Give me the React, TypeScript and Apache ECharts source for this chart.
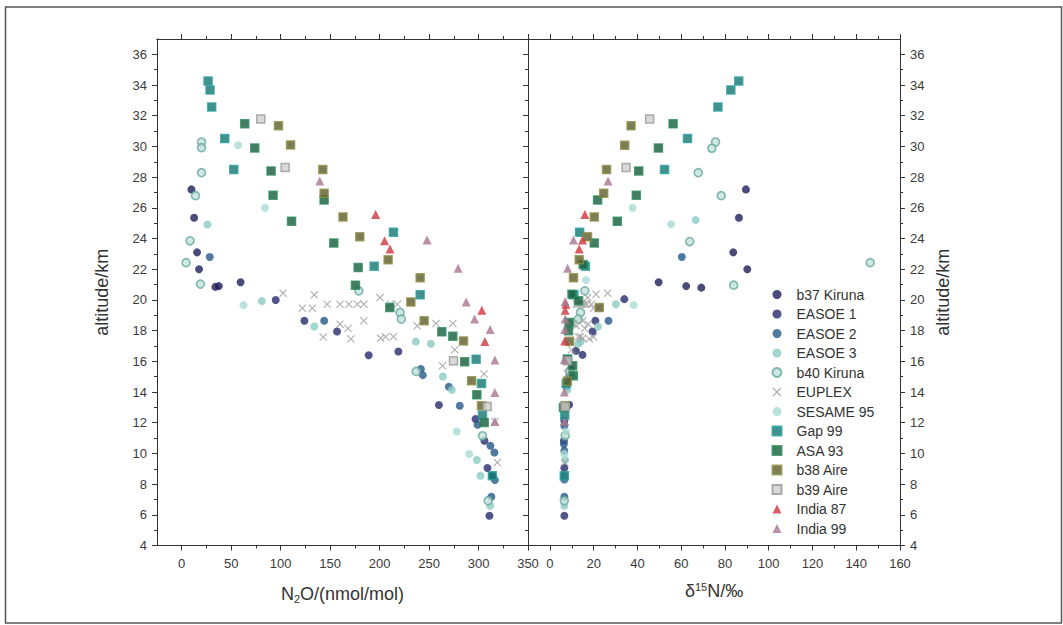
import React, { useEffect, useRef } from "react";
import * as echarts from "echarts";

// ---------- data: [N2O nmol/mol, altitude km] (left) and [δ15N ‰, altitude km] (right)
const seriesNames = [
  "b37 Kiruna", "EASOE 1", "EASOE 2", "EASOE 3", "b40 Kiruna", "EUPLEX", "SESAME 95",
  "Gap 99", "ASA 93", "b38 Aire", "b39 Aire", "India 87", "India 99",
];

const b37Left = [[9.8, 27.2], [12.5, 25.35], [15.5, 23.1], [17.5, 22.0], [34, 20.85], [37.5, 20.9], [59.5, 21.15]];
const b37Right = [[89.6, 27.2], [86.4, 25.35], [83.8, 23.1], [90.2, 22.0], [49.7, 21.15], [62.3, 20.9], [69.2, 20.8]];

const easoe1Left = [[95, 20.0], [124, 18.64], [157, 17.94], [189, 16.4], [219, 16.64], [260, 13.15], [297, 12.24], [306, 10.82], [309, 9.05], [311, 5.94]];
const easoe1Right = [[34, 20.05], [20.8, 18.64], [19.5, 17.94], [11.9, 16.68], [14.9, 16.42], [8.8, 13.17], [6.6, 12.13], [6.4, 10.82], [6.6, 9.05], [6.6, 5.94]];

const easoe2Left = [[28.3, 22.8], [144, 18.64], [241.7, 15.5], [243.7, 15.1], [270, 14.34], [281, 13.1], [299, 11.87], [312, 10.5], [316, 10.06], [314, 8.55], [316.5, 8.27], [313, 7.18]];
const easoe2Right = [[60.3, 22.8], [26.8, 18.64], [9.5, 15.5], [9, 15.1], [7.5, 14.34], [6.6, 13.1], [6.6, 11.8], [6.4, 10.6], [6.6, 10.17], [6.8, 8.55], [6.6, 8.3], [6.6, 7.18]];

const easoe3Left = [[26, 24.91], [81, 19.92], [134, 18.27], [236.6, 17.29], [251.8, 17.14], [264, 15.01], [273, 14.14], [298.3, 9.57], [302, 8.55], [311.7, 6.59]];
const easoe3Right = [[66.6, 25.2], [30.2, 19.72], [22, 18.27], [14, 17.29], [13, 17.14], [10, 15.01], [8, 14.14], [7, 9.57], [6.8, 8.55], [6.6, 6.59]];

const b40Left = [[20, 30.29], [20, 29.92], [20, 28.29], [13.9, 26.79], [8.4, 23.85], [4.4, 22.43], [18.9, 21.03], [179, 20.59], [220.7, 19.18], [222, 18.75], [237, 15.34], [304, 11.15], [309.7, 6.92]];
const b40Right = [[75.7, 30.29], [74.0, 29.88], [67.8, 28.29], [78.3, 26.79], [63.9, 23.8], [146.4, 22.43], [84.0, 20.96], [16, 20.59], [14, 19.18], [13, 18.75], [9, 15.34], [7, 11.15], [6.6, 6.92]];

const euplexLeft = [[102.5, 20.44], [122, 19.46], [132, 19.46], [134, 20.33], [147, 19.72], [160, 19.72], [169, 19.72], [177.6, 19.72], [184, 19.72], [200.5, 20.15], [211, 19.72], [218, 19.72], [160, 18.42], [143, 17.58], [168, 18.14], [184, 18.64], [171, 17.45], [201, 17.51], [206, 17.6], [214, 17.6], [238, 18.31], [257, 18.46], [274, 18.46], [276, 16.75], [263.6, 15.71], [305.6, 15.17], [316.5, 12.08], [319, 9.41]];
const euplexRight = [[26.4, 20.44], [22, 19.46], [20, 19.46], [21.1, 20.37], [19, 19.72], [17, 19.72], [16, 19.72], [15, 19.72], [14, 19.72], [17.2, 20.15], [13, 19.72], [12, 19.72], [17.5, 18.42], [20, 17.58], [16, 18.14], [15, 18.64], [18, 17.45], [15, 17.51], [14, 17.6], [13, 17.6], [12, 18.31], [11, 18.46], [10, 18.46], [10, 16.75], [9, 15.71], [8, 15.17], [7, 12.08], [6.8, 9.41]];

const sesameLeft = [[57, 30.08], [84.2, 26.01], [62.4, 19.66], [278, 11.43], [290.5, 9.96]];
const sesameRight = [[55.4, 24.93], [37.8, 26.01], [38.3, 19.66], [16.5, 21.29], [7.3, 11.43], [6.6, 9.96]];

const gapLeft = [[26.6, 34.26], [28.6, 33.68], [30.3, 32.57], [43.5, 30.51], [52.6, 28.49], [214, 24.41], [194.5, 22.2], [241, 20.33], [297.6, 16.14], [303, 14.56], [304, 12.5], [314, 8.55]];
const gapRight = [[86.3, 34.26], [82.7, 33.68], [76.8, 32.57], [62.9, 30.51], [52.4, 28.49], [13.6, 24.41], [16.2, 22.2], [11, 20.33], [8, 16.14], [7.5, 14.56], [6.8, 12.5], [6.6, 8.55]];

const asaLeft = [[63.7, 31.48], [73.8, 29.9], [90.3, 28.4], [92.3, 26.82], [143.9, 26.51], [111, 25.13], [153.7, 23.71], [178.3, 22.11], [175.6, 20.96], [210.3, 19.5], [262.9, 17.92], [274, 17.64], [286, 15.97], [298.3, 13.82], [305.7, 12.02]];
const asaRight = [[56.3, 31.48], [49.6, 29.9], [40.6, 28.4], [39.5, 26.82], [21.8, 26.51], [30.8, 25.13], [20.3, 23.71], [15.2, 22.3], [10.1, 20.37], [13.1, 19.94], [8.8, 18.53], [8.5, 17.99], [8.1, 16.14], [10.4, 15.71], [10.7, 15.06], [6.2, 12.99]];

const b38Left = [[97.8, 31.35], [110, 30.1], [142.6, 28.49], [143.9, 26.95], [163, 25.41], [180, 24.11], [208.6, 22.61], [241, 21.44], [231.6, 19.87], [245, 18.64], [284.8, 17.33], [293, 14.73], [303, 13.1]];
const b38Right = [[37.1, 31.35], [34.2, 30.08], [25.9, 28.49], [24.6, 26.95], [20.3, 25.41], [17.2, 24.11], [13.4, 22.61], [10.8, 21.44], [22.6, 19.5], [9, 17.3], [8, 14.7], [7, 13.1]];

const b39Left = [[79.9, 31.79], [104.5, 28.62], [274.7, 16.03], [308.7, 13.06]];
const b39Right = [[45.6, 31.79], [34.8, 28.62], [8, 16.03], [7, 13.06]];

const india87Left = [[196, 25.56], [205, 23.85], [210.6, 23.32], [303.3, 19.33], [306.4, 17.29]];
const india87Right = [[16, 25.56], [14.9, 23.91], [13.4, 23.32], [7.3, 19.72], [7, 19.33], [6.8, 17.33]];

const india99Left = [[139.5, 27.75], [248, 23.91], [279.4, 22.07], [287.5, 19.87], [296, 18.75], [311.7, 18.07], [316.5, 16.08], [316.5, 13.97], [316.5, 12.08]];
const india99Right = [[26.6, 27.75], [10.8, 23.91], [8.1, 22.07], [7, 19.9], [7, 18.75], [6.8, 18.07], [6.6, 16.1], [6.6, 14], [6.6, 12.1]];

// ---------- ticks
const n2oTickLabels = [0, 50, 100, 150, 200, 250, 300, 350];
const n2oMinorTicks = [25, 75, 125, 175, 225, 275, 325];
const d15nTickLabels = [0, 20, 40, 60, 80, 100, 120, 140, 160];
const d15nMinorTicks = [10, 30, 50, 70, 90, 110, 130, 150];
const altTickLabels = [4, 6, 8, 10, 12, 14, 16, 18, 20, 22, 24, 26, 28, 30, 32, 34, 36];
const altMinorTicks = [5, 7, 9, 11, 13, 15, 17, 19, 21, 23, 25, 27, 29, 31, 33, 35];

const FONT = "'Liberation Sans', Arial, sans-serif";
const AXC = "#333";

const XSYM = "path://M0,1 L1,0 L5,4 L9,0 L10,1 L6,5 L10,9 L9,10 L5,6 L1,10 L0,9 L4,5 Z";

const styles: Record<string, any> = {
  "b37 Kiruna": { symbol: "circle", size: 8, itemStyle: { color: "#1d1e58" } },
  "EASOE 1": { symbol: "circle", size: 8, itemStyle: { color: "#252a6c" } },
  "EASOE 2": { symbol: "circle", size: 8, itemStyle: { color: "#25598a" } },
  "EASOE 3": { symbol: "circle", size: 8, itemStyle: { color: "#8bcac3" } },
  "b40 Kiruna": { symbol: "circle", size: 8, itemStyle: { color: "#c4e2dc", borderColor: "#64a89c", borderWidth: 1.6 } },
  "EUPLEX": { symbol: XSYM, size: 8, itemStyle: { color: "#9c9c9c" } },
  "SESAME 95": { symbol: "circle", size: 8, itemStyle: { color: "#a9dbd3" } },
  "Gap 99": { symbol: "rect", size: 8, itemStyle: { color: "#137670", borderColor: "#2a9e9e", borderWidth: 1.5 } },
  "ASA 93": { symbol: "rect", size: 8, itemStyle: { color: "#165d3d", borderColor: "#2e8a5c", borderWidth: 1.5 } },
  "b38 Aire": { symbol: "rect", size: 8, itemStyle: { color: "#5d5d2a", borderColor: "#8e8e46", borderWidth: 1.5 } },
  "b39 Aire": { symbol: "rect", size: 8, itemStyle: { color: "#cfcfcf", borderColor: "#9a9a9a", borderWidth: 1.5 } },
  "India 87": { symbol: "triangle", size: 9, itemStyle: { color: "#d0343f" } },
  "India 99": { symbol: "triangle", size: 9, itemStyle: { color: "#a77590" } },
};

const leftData: Record<string, number[][]> = {
  "b37 Kiruna": b37Left, "EASOE 1": easoe1Left, "EASOE 2": easoe2Left, "EASOE 3": easoe3Left,
  "b40 Kiruna": b40Left, "EUPLEX": euplexLeft, "SESAME 95": sesameLeft, "Gap 99": gapLeft,
  "ASA 93": asaLeft, "b38 Aire": b38Left, "b39 Aire": b39Left, "India 87": india87Left, "India 99": india99Left,
};
const rightData: Record<string, number[][]> = {
  "b37 Kiruna": b37Right, "EASOE 1": easoe1Right, "EASOE 2": easoe2Right, "EASOE 3": easoe3Right,
  "b40 Kiruna": b40Right, "EUPLEX": euplexRight, "SESAME 95": sesameRight, "Gap 99": gapRight,
  "ASA 93": asaRight, "b38 Aire": b38Right, "b39 Aire": b39Right, "India 87": india87Right, "India 99": india99Right,
};

function xAxisDef(grid: number, position: string, min: number, max: number, ticks: number[], len: number, labels: boolean, extra: any = {}) {
  return {
    type: "value", gridIndex: grid, position, min, max,
    axisLine: { show: labels || position === "top", onZero: false, lineStyle: { color: AXC, width: 1 } },
    axisTick: { show: true, inside: false, length: len, customValues: ticks, lineStyle: { color: AXC, width: 1 } },
    axisLabel: labels
      ? { show: true, customValues: ticks, margin: 11, fontSize: 13, color: "#3a3a3a", fontFamily: FONT }
      : { show: false },
    splitLine: { show: false },
    ...extra,
  };
}
function yAxisDef(grid: number, position: string, ticks: number[], len: number, labels: boolean, extra: any = {}) {
  return {
    type: "value", gridIndex: grid, position, min: 4, max: 37,
    axisLine: { show: true, onZero: false, lineStyle: { color: AXC, width: 1 } },
    axisTick: { show: true, inside: false, length: len, customValues: ticks, lineStyle: { color: AXC, width: 1 } },
    axisLabel: labels
      ? { show: true, customValues: ticks, margin: 10, fontSize: 13, color: "#3a3a3a", fontFamily: FONT }
      : { show: false },
    splitLine: { show: false },
    ...extra,
  };
}

export default function App() {
  const ref = useRef<HTMLDivElement>(null);
  useEffect(() => {
    if (!ref.current) return;
    const chart = echarts.init(ref.current, null, { renderer: "svg" });
    const nameStyle = { fontSize: 18, color: "#333", fontFamily: FONT };

    const xAxes = [
      xAxisDef(0, "bottom", -25, 350, n2oTickLabels, 5, true, {
        name: "{a|N}{s|2}{a|O/(nmol/mol)}", nameLocation: "middle", nameGap: 38,
        nameTextStyle: { rich: { a: { fontSize: 18, color: "#333", fontFamily: FONT }, s: { fontSize: 11, color: "#333", fontFamily: FONT, verticalAlign: "bottom", padding: [10, 0, 0, 0] } } },
      }),
      xAxisDef(0, "bottom", -25, 350, n2oMinorTicks, 3, false),
      xAxisDef(0, "top", -25, 350, n2oTickLabels, 5, false),
      xAxisDef(0, "top", -25, 350, n2oMinorTicks, 3, false),
      xAxisDef(1, "bottom", -10, 160, d15nTickLabels, 5, true, {
        name: "{a|δ}{s|15}{a|N/‰}", nameLocation: "middle", nameGap: 36,
        nameTextStyle: { rich: { a: { fontSize: 18, color: "#333", fontFamily: FONT }, s: { fontSize: 11, color: "#333", fontFamily: FONT, verticalAlign: "top", padding: [0, 0, 8, 0] } } },
      }),
      xAxisDef(1, "bottom", -10, 160, d15nMinorTicks, 3, false),
      xAxisDef(1, "top", -10, 160, d15nTickLabels, 5, false),
      xAxisDef(1, "top", -10, 160, d15nMinorTicks, 3, false),
    ];
    const yAxes = [
      yAxisDef(0, "left", altTickLabels, 5, true, {
        name: "altitude/km", nameLocation: "middle", nameGap: 46, nameRotate: 90, nameTextStyle: nameStyle,
      }),
      yAxisDef(0, "left", altMinorTicks, 3, false),
      yAxisDef(1, "left", altTickLabels, 5, false),
      yAxisDef(1, "left", altMinorTicks, 3, false),
      yAxisDef(1, "right", altTickLabels, 5, true, {
        name: "altitude/km", nameLocation: "middle", nameGap: 34, nameRotate: 90, nameTextStyle: nameStyle,
      }),
      yAxisDef(1, "right", altMinorTicks, 3, false),
    ];

    const series: any[] = [];
    seriesNames.forEach((name) => {
      const st = styles[name];
      series.push({
        type: "scatter", name, xAxisIndex: 0, yAxisIndex: 0, data: leftData[name],
        symbol: st.symbol, symbolSize: st.size, itemStyle: st.itemStyle,
      });
      series.push({
        type: "scatter", name, xAxisIndex: 4, yAxisIndex: 4, data: rightData[name],
        symbol: st.symbol, symbolSize: st.size, itemStyle: st.itemStyle,
      });
    });

    chart.setOption({
      animation: false,
      backgroundColor: "#ffffff",
      textStyle: { fontFamily: FONT },
      grid: [
        { left: 157, right: 535, top: 39, bottom: 79.5 },
        { left: 528, right: 163, top: 39, bottom: 79.5 },
      ],
      xAxis: xAxes,
      yAxis: yAxes,
      legend: {
        data: seriesNames, orient: "vertical", left: 766.5, top: 282,
        itemWidth: 9, itemHeight: 9, itemGap: 4.5, selectedMode: false,
        textStyle: { fontSize: 14, color: "#333", fontFamily: FONT, lineHeight: 15, padding: [0, 0, 0, 10] },
      },
      graphic: [
        { type: "rect", shape: { x: 5.5, y: 7, width: 1056, height: 616 }, style: { fill: "none", stroke: "#555", lineWidth: 1.5 }, silent: true },
      ],
      series,
    });
    return () => chart.dispose();
  }, []);
  return <div ref={ref} style={{ position: "absolute", left: 0, top: 0, width: 1063, height: 625 }} />;
}
